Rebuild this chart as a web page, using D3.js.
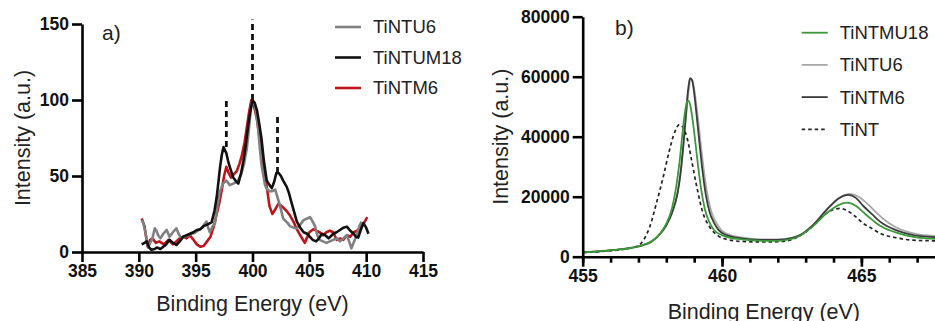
<!DOCTYPE html>
<html>
<head>
<meta charset="utf-8">
<script src="https://cdn.jsdelivr.net/npm/d3@7"></script>
<style>
  html, body { margin: 0; padding: 0; background: #fff; }
  svg { display: block; font-family: "Liberation Sans", Arial, sans-serif; }
</style>
</head>
<body>
<svg id="chart" width="935" height="321"></svg>
<script>
// ---- panel a) N 1s spectra: [binding energy, intensity]
const tintu6A = [[390.25,21],[390.4,19],[390.55,14],[390.7,8],[390.8,3],[391.0,6],[391.2,9],[391.4,15.6],[391.55,14],[391.7,11],[391.9,9],[392.15,12],[392.45,14.5],[392.7,10],[393.0,13],[393.3,15.6],[393.5,12],[393.75,9],[394.0,10],[394.35,11],[394.6,12],[394.9,12.5],[395.2,14],[395.5,15.6],[395.75,18],[395.95,20],[396.1,16],[396.25,13],[396.5,17],[396.7,19],[396.9,30],[397.15,40],[397.4,45],[397.7,47],[398.0,44],[398.3,45],[398.6,46],[398.8,48],[399.0,51],[399.25,58],[399.5,68],[399.7,82],[399.85,94],[399.95,99],[400.2,97],[400.35,90],[400.5,81],[400.65,68],[400.8,57],[401.1,44],[401.3,41],[401.5,40],[401.75,40],[402.0,41],[402.2,36],[402.4,31],[402.7,22],[403.1,19],[403.3,17],[403.6,16],[403.9,15.6],[404.2,18],[404.5,21],[404.8,22],[405.05,23],[405.3,20],[405.5,17],[405.7,11],[405.9,8],[406.2,7],[406.5,6],[406.8,7],[407.1,8],[407.4,9],[407.7,7],[408.0,9],[408.3,11],[408.5,7],[408.7,2.4],[408.95,7],[409.2,12],[409.4,17],[409.6,20]];
const tintum18A = [[390.25,5],[390.5,6],[390.7,7],[390.9,3],[391.1,1.5],[391.4,2],[391.6,3],[391.9,2],[392.15,3.5],[392.4,5],[392.7,8],[393.0,6],[393.3,4.6],[393.6,7],[393.9,10],[394.2,11],[394.5,12],[394.8,13],[395.1,14.5],[395.4,15],[395.7,17],[396.0,18],[396.4,19.5],[396.65,27],[396.85,36],[397.0,46],[397.15,56],[397.3,64],[397.45,69],[397.7,65],[397.85,60],[398.0,56],[398.3,49],[398.5,47],[398.75,45],[399.0,52],[399.2,60],[399.4,70],[399.6,82],[399.8,92],[400.0,100],[400.2,98],[400.4,93],[400.6,84],[400.8,74],[401.0,60],[401.25,47],[401.5,44],[401.7,42],[401.9,46],[402.1,52],[402.3,52],[402.5,50],[402.7,47],[403.0,43],[403.2,39],[403.45,32],[403.6,28],[403.9,20],[404.2,16],[404.5,13],[404.8,12],[405.05,10],[405.3,8],[405.6,7],[405.85,9],[406.1,12],[406.4,11],[406.7,9],[407.1,12],[407.4,13],[407.7,14.5],[408.0,16],[408.3,16.7],[408.6,14],[408.9,12],[409.1,10],[409.3,9.5],[409.5,14],[409.75,19],[410.0,16],[410.2,12]];
const tintm6A = [[390.25,22],[390.5,17],[390.75,4],[391.0,8],[391.2,9],[391.5,6],[391.8,7],[392.2,5],[392.6,8],[393.0,5],[393.3,7],[393.6,9],[393.9,10],[394.2,9],[394.5,11],[394.8,8],[395.1,5],[395.4,3.5],[395.7,4],[396.0,7],[396.3,10],[396.6,17],[396.85,25],[397.1,33],[397.3,41],[397.5,50],[397.7,56],[397.9,52],[398.1,49],[398.35,51],[398.6,53],[398.85,58],[399.05,63],[399.3,72],[399.5,82],[399.7,92],[399.9,100],[400.1,97],[400.4,87],[400.6,76],[400.8,67],[401.0,55],[401.25,43],[401.5,30],[401.75,25],[402.0,28],[402.3,32],[402.6,30],[403.0,27],[403.3,24],[403.6,20],[403.9,15],[404.2,11],[404.6,6],[405.0,13],[405.35,15],[405.6,14],[405.9,13],[406.2,11],[406.5,13],[406.8,14],[407.1,13],[407.4,8],[407.7,9],[408.0,8],[408.3,11],[408.6,10],[408.9,13],[409.2,14],[409.5,16],[409.8,19],[410.1,23]];
// dashed peak markers: [energy, from, to]
const markersA = [[397.7, 69, 102], [400.0, 100, 153], [402.2, 52, 90]];
const xTicksA = [385, 390, 395, 400, 405, 410, 415];
const yTicksA = [0, 50, 100, 150];

// ---- panel b) Ti 2p spectra
const tintmu18B = [[455,1400],[456,2100],[456.5,2600],[457,3400],[457.5,5300],[457.8,8000],[458.0,11000],[458.2,16000],[458.35,23000],[458.48,32000],[458.58,41000],[458.66,47500],[458.74,51500],[458.8,52000],[458.87,50000],[458.96,44500],[459.05,37500],[459.15,29500],[459.25,22500],[459.38,16000],[459.52,12000],[459.7,9000],[460.0,7200],[460.3,6300],[460.7,5800],[461,5500],[461.5,5300],[462,5300],[462.5,5900],[462.8,7000],[463.27,10200],[463.75,14500],[464.2,17300],[464.47,18000],[464.8,17000],[465.07,14800],[465.4,12200],[465.67,10300],[466.2,8200],[466.86,6600],[467.5,6000],[468,5800]];
const tintu6B = [[455,1500],[456,2200],[456.5,2700],[457,3500],[457.5,5300],[457.8,7900],[458.0,10500],[458.2,14500],[458.4,21000],[458.5,27000],[458.6,35500],[458.7,46000],[458.8,55000],[458.87,59000],[458.95,58500],[459.03,54000],[459.13,46500],[459.23,38000],[459.33,30000],[459.45,22000],[459.6,15500],[459.75,12000],[459.9,9800],[460.0,8600],[460.3,7200],[460.7,6400],[461,6000],[461.5,5800],[462,5800],[462.5,6300],[462.8,7200],[463.27,10600],[463.75,15600],[464.2,19600],[464.6,20900],[464.9,20000],[465.2,17800],[465.5,15000],[465.8,12500],[466.2,10000],[466.86,7800],[467.5,7000],[468,6700]];
const tintm6B = [[455,1400],[456,2100],[456.5,2600],[457,3400],[457.5,5200],[457.8,7800],[458.0,10500],[458.2,14500],[458.4,21000],[458.5,27000],[458.6,36000],[458.7,47000],[458.78,55500],[458.85,59500],[458.92,59000],[459.0,54500],[459.1,46000],[459.2,37000],[459.3,28500],[459.42,20500],[459.55,15000],[459.7,11500],[459.85,9200],[460.0,7900],[460.3,6800],[460.7,6100],[461,5800],[461.5,5600],[462,5600],[462.5,6200],[462.8,7200],[463.27,10600],[463.75,15600],[464.2,19500],[464.53,20600],[464.8,19600],[465.07,16900],[465.4,14000],[465.67,11700],[466.2,9000],[466.86,7200],[467.5,6600],[468,6300]];
const tintB = [[455,1400],[456,2000],[456.5,2500],[457,3700],[457.2,5800],[457.4,9800],[457.65,18000],[457.9,27000],[458.1,35000],[458.3,41500],[458.47,44000],[458.6,43000],[458.75,39500],[458.9,32500],[459.1,23000],[459.3,15000],[459.55,10000],[459.85,7000],[460.2,5700],[460.7,5100],[461.5,4900],[462,5000],[462.5,5700],[462.8,7000],[463.27,10300],[463.75,14500],[464.23,16100],[464.5,15300],[464.8,13300],[465.07,11100],[465.4,9300],[465.67,7800],[466.2,6400],[466.86,5500],[467.5,5300],[468,5200]];
const xTicksB = [455, 460, 465];
const xMinorB = d3.range(455, 469, 1);
const yTicksB = [0, 20000, 40000, 60000, 80000];

const svg = d3.select('#chart');

function drawAxes(g, x, y, xTicks, yTicks, xMinor) {
  const tickW = 2.6;
  if (xMinor) {
    g.append('g')
      .attr('transform', `translate(0,${y.range()[0]})`)
      .call(d3.axisBottom(x).tickValues(xMinor).tickSize(6).tickFormat(''))
      .call(a => a.select('.domain').remove())
      .selectAll('line').attr('stroke', '#000').attr('stroke-width', tickW);
  }
  const gx = g.append('g')
    .attr('transform', `translate(0,${y.range()[0]})`)
    .call(d3.axisBottom(x).tickValues(xTicks).tickSize(10).tickSizeOuter(0).tickPadding(3).tickFormat(d3.format('d')));
  const gy = g.append('g')
    .attr('transform', `translate(${x.range()[0]},0)`)
    .call(d3.axisLeft(y).tickValues(yTicks).tickSize(10).tickSizeOuter(0).tickPadding(3).tickFormat(d3.format('d')));
  [gx, gy].forEach(a => {
    a.select('.domain').attr('stroke', '#000').attr('stroke-width', tickW);
    a.selectAll('.tick line').attr('stroke', '#000').attr('stroke-width', tickW);
    a.selectAll('.tick text')
      .attr('fill', '#111')
      .style('font-size', '17.5px')
      .style('font-weight', 'bold');
  });
}

function drawLegend(g, items, x0, y0, step) {
  items.forEach((it, i) => {
    const yy = y0 + i * step;
    g.append('line')
      .attr('x1', x0).attr('x2', x0 + 26).attr('y1', yy).attr('y2', yy)
      .attr('stroke', it.color).attr('stroke-width', it.width)
      .attr('stroke-dasharray', it.dash || null);
    g.append('text')
      .attr('x', x0 + 38).attr('y', yy).attr('dy', '0.35em')
      .attr('fill', '#222')
      .style('font-size', '18.5px')
      .text(it.name);
  });
}

// ================= panel a =================
const xA = d3.scaleLinear().domain([385, 415]).range([82, 423]);
const yA = d3.scaleLinear().domain([0, 150]).range([252, 24]);
const gA = svg.append('g');

const lineA = d3.line().x(d => xA(d[0])).y(d => yA(d[1]));
const seriesA = [
  {name: 'TiNTU6', data: tintu6A, color: '#808080', width: 2.6},
  {name: 'TiNTUM18', data: tintum18A, color: '#111111', width: 2.6},
  {name: 'TiNTM6', data: tintm6A, color: '#c0141c', width: 2.6}
];
[seriesA[2], seriesA[0], seriesA[1]].forEach(s => {
  gA.append('path').datum(s.data)
    .attr('d', lineA).attr('fill', 'none')
    .attr('stroke', s.color).attr('stroke-width', s.width)
    .attr('stroke-linejoin', 'round');
});

gA.selectAll('.marker').data(markersA).enter().append('line')
  .attr('x1', d => xA(d[0])).attr('x2', d => xA(d[0]))
  .attr('y1', d => yA(d[1])).attr('y2', d => yA(d[2]))
  .attr('stroke', '#111').attr('stroke-width', 2.8)
  .attr('stroke-dasharray', '6,4');

drawAxes(gA, xA, yA, xTicksA, yTicksA, null);

gA.append('text').attr('x', 102).attr('y', 40).attr('fill', '#222')
  .style('font-size', '21px').text('a)');
gA.append('text')
  .attr('x', d3.mean(xA.range())).attr('y', 311)
  .attr('text-anchor', 'middle').attr('fill', '#222')
  .style('font-size', '21.5px').text('Binding Energy (eV)');
gA.append('text')
  .attr('transform', `translate(30,${d3.mean(yA.range())}) rotate(-90)`)
  .attr('text-anchor', 'middle').attr('fill', '#222')
  .style('font-size', '21.5px').text('Intensity (a.u.)');

drawLegend(gA, seriesA, 335, 27, 30.5);

// ================= panel b =================
const xB = d3.scaleLinear().domain([455, 468]).range([582.7, 945]);
const yB = d3.scaleLinear().domain([0, 80000]).range([256.7, 16.7]);
const gB = svg.append('g');

const lineB = d3.line().x(d => xB(d[0])).y(d => yB(d[1])).curve(d3.curveMonotoneX);
const seriesB = [
  {name: 'TiNTMU18', data: tintmu18B, color: '#3a9a3a', width: 1.8},
  {name: 'TiNTU6', data: tintu6B, color: '#a8a8a8', width: 1.8},
  {name: 'TiNTM6', data: tintm6B, color: '#3c3c3c', width: 1.8},
  {name: 'TiNT', data: tintB, color: '#222222', width: 1.7, dash: '3.5,3'}
];
[seriesB[1], seriesB[2], seriesB[3], seriesB[0]].forEach(s => {
  gB.append('path').datum(s.data)
    .attr('d', lineB).attr('fill', 'none')
    .attr('stroke', s.color).attr('stroke-width', s.width)
    .attr('stroke-dasharray', s.dash || null);
});

drawAxes(gB, xB, yB, xTicksB, yTicksB, xMinorB);

gB.append('text').attr('x', 615).attr('y', 35).attr('fill', '#222')
  .style('font-size', '21px').text('b)');
gB.append('text')
  .attr('x', d3.mean(xB.range())).attr('y', 319)
  .attr('text-anchor', 'middle').attr('fill', '#222')
  .style('font-size', '21.5px').text('Binding Energy (eV)');
gB.append('text')
  .attr('transform', `translate(508,${d3.mean(yB.range())}) rotate(-90)`)
  .attr('text-anchor', 'middle').attr('fill', '#222')
  .style('font-size', '21.5px').text('Intensity (a.u.)');

drawLegend(gB, seriesB, 801.7, 32.7, 32.2);
</script>
</body>
</html>
